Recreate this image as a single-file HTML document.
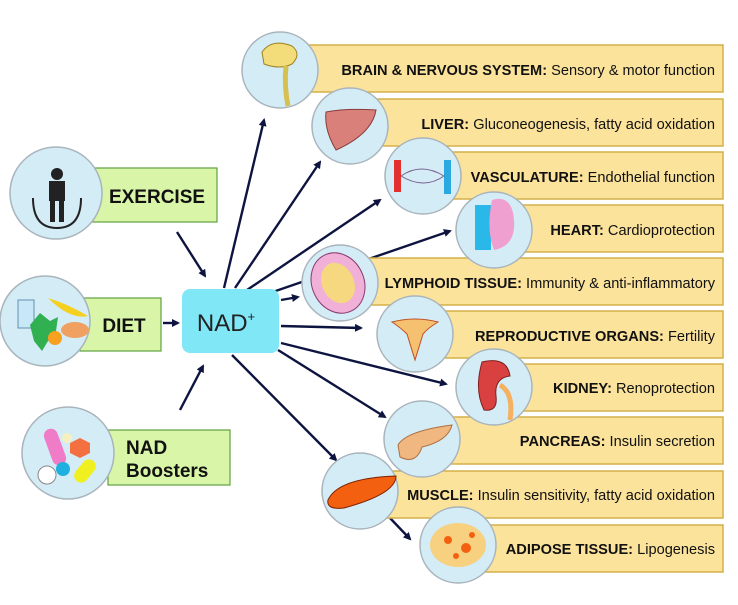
<!DOCTYPE html>
<html><head><meta charset="utf-8"><style>
html,body{margin:0;padding:0;background:#fff;}
svg{display:block;font-family:"Liberation Sans",Arial,sans-serif;}
.b{fill:#fbe39b;stroke:#d4b04a;stroke-width:1.5}
.g{fill:#d8f5a8;stroke:#5fa040;stroke-width:1.2}
.c{fill:#d3ecf5;stroke:#a9b4bc;stroke-width:1.5}
.t{font-size:14.6px;fill:#111;text-anchor:end}
.a{stroke:#0d1440;stroke-width:2.4;fill:none;marker-end:url(#m)}
</style></head><body>
<svg width="738" height="605" viewBox="0 0 738 605">
<defs><marker id="m" markerWidth="8" markerHeight="8" refX="6" refY="4" orient="auto" markerUnits="userSpaceOnUse"><path d="M0,0L8,4L0,8z" fill="#0d1440"/></marker></defs>
<!-- arrows -->
<line class="a" x1="177" y1="232" x2="205" y2="276"/>
<line class="a" x1="163" y1="323" x2="178" y2="323"/>
<line class="a" x1="180" y1="410" x2="203" y2="366"/>
<line class="a" x1="224" y1="288" x2="264" y2="120"/>
<line class="a" x1="235" y1="288" x2="320" y2="162"/>
<line class="a" x1="247" y1="290" x2="380" y2="200"/>
<line class="a" x1="264" y1="295" x2="450" y2="231"/>
<line class="a" x1="281" y1="300" x2="298" y2="297"/>
<line class="a" x1="281" y1="326" x2="361" y2="328"/>
<line class="a" x1="281" y1="343" x2="446" y2="384"/>
<line class="a" x1="278" y1="350" x2="385" y2="417"/>
<line class="a" x1="232" y1="355" x2="336" y2="460"/>
<line class="a" x1="390" y1="518" x2="410" y2="539"/>
<!-- right boxes -->
<rect class="b" x="300" y="45" width="423" height="47"/>
<rect class="b" x="370" y="99" width="353" height="47"/>
<rect class="b" x="445" y="152" width="278" height="47"/>
<rect class="b" x="515" y="205" width="208" height="47"/>
<rect class="b" x="360" y="258" width="363" height="47"/>
<rect class="b" x="430" y="311" width="293" height="47"/>
<rect class="b" x="520" y="364" width="203" height="47"/>
<rect class="b" x="445" y="417" width="278" height="47"/>
<rect class="b" x="380" y="471" width="343" height="47"/>
<rect class="b" x="475" y="525" width="248" height="47"/>
<text class="t" x="715" y="75"><tspan font-weight="bold">BRAIN &amp; NERVOUS SYSTEM:</tspan> Sensory &amp; motor function</text>
<text class="t" x="715" y="129"><tspan font-weight="bold">LIVER:</tspan>  Gluconeogenesis, fatty acid oxidation</text>
<text class="t" x="715" y="182"><tspan font-weight="bold">VASCULATURE:</tspan> Endothelial function</text>
<text class="t" x="715" y="235"><tspan font-weight="bold">HEART:</tspan>  Cardioprotection</text>
<text class="t" x="715" y="288"><tspan font-weight="bold">LYMPHOID TISSUE:</tspan> Immunity &amp; anti-inflammatory</text>
<text class="t" x="715" y="341"><tspan font-weight="bold">REPRODUCTIVE ORGANS:</tspan> Fertility</text>
<text class="t" x="715" y="393"><tspan font-weight="bold">KIDNEY:</tspan>  Renoprotection</text>
<text class="t" x="715" y="446"><tspan font-weight="bold">PANCREAS:</tspan> Insulin secretion</text>
<text class="t" x="715" y="500"><tspan font-weight="bold">MUSCLE:</tspan> Insulin sensitivity, fatty acid oxidation</text>
<text class="t" x="715" y="554"><tspan font-weight="bold">ADIPOSE TISSUE:</tspan>  Lipogenesis</text>
<!-- organ circles -->
<circle class="c" cx="280" cy="70" r="38"/>
<path d="M262,52q10,-14 30,-6q10,8 0,18q-12,6 -28,0z" fill="#f2dd7a" stroke="#a08020"/>
<path d="M286,66q-2,20 2,40" stroke="#d6c050" stroke-width="5" fill="none"/>
<circle class="c" cx="350" cy="126" r="38"/>
<path d="M326,112q20,-4 50,-2q-4,24 -40,40q-12,-20 -10,-38z" fill="#d9807a" stroke="#8a3a3a"/>
<circle class="c" cx="423" cy="176" r="38"/>
<rect x="394" y="160" width="7" height="32" fill="#e23030"/><rect x="444" y="160" width="7" height="34" fill="#2aa8e0"/>
<path d="M401,176q20,-14 43,0q-20,14 -43,0" stroke="#7a6090" fill="none"/>
<circle class="c" cx="494" cy="230" r="38"/>
<path d="M475,205h16v45h-16z" fill="#2ab8e8"/><path d="M492,200q20,-6 22,20q2,26 -20,30q-8,-20 -2,-50z" fill="#f0a0d0"/>
<circle class="c" cx="340" cy="283" r="38"/>
<ellipse cx="338" cy="283" rx="26" ry="31" fill="#f0b0d8" stroke="#8a3a70" transform="rotate(-25 338 283)"/>
<ellipse cx="338" cy="283" rx="16" ry="21" fill="#f5d880" transform="rotate(-25 338 283)"/>
<circle class="c" cx="415" cy="334" r="38"/>
<path d="M392,322q23,-6 46,0q-10,6 -15,12l-8,26l-8,-26q-6,-6 -15,-12z" fill="#f5c070" stroke="#c05020"/>
<circle class="c" cx="494" cy="387" r="38"/>
<path d="M482,362q25,-6 28,14q-16,2 -14,20q2,16 -12,14q-10,-20 -2,-48z" fill="#d94040" stroke="#802020"/>
<path d="M500,385q14,8 10,35" stroke="#f5b060" stroke-width="5" fill="none"/>
<circle class="c" cx="422" cy="439" r="38"/>
<path d="M398,445q8,-14 54,-20q-4,16 -30,22q-6,18 -22,10z" fill="#f0b880" stroke="#b07040"/>
<circle class="c" cx="360" cy="491" r="38"/>
<path d="M328,500q10,-22 68,-24q0,18 -52,32q-18,2 -16,-8z" fill="#f26010" stroke="#802000"/>
<circle class="c" cx="458" cy="545" r="38"/>
<ellipse cx="458" cy="545" rx="28" ry="22" fill="#f7d080"/>
<circle cx="448" cy="540" r="4" fill="#f26010"/><circle cx="466" cy="548" r="5" fill="#f26010"/><circle cx="456" cy="556" r="3" fill="#f26010"/><circle cx="472" cy="535" r="3" fill="#f26010"/>
<!-- left -->
<rect class="g" x="92" y="168" width="125" height="54"/>
<text x="157" y="203" font-size="19" font-weight="bold" text-anchor="middle" fill="#111">EXERCISE</text>
<circle class="c" cx="56" cy="193" r="46"/>
<circle cx="57" cy="174" r="6" fill="#222"/><rect x="49" y="181" width="16" height="20" fill="#222"/><rect x="50" y="200" width="5" height="22" fill="#222"/><rect x="59" y="200" width="5" height="22" fill="#222"/>
<path d="M33,198q0,30 24,30q24,0 24,-30" stroke="#222" stroke-width="2" fill="none"/>
<rect class="g" x="80" y="298" width="81" height="53"/>
<text x="124" y="332" font-size="19" font-weight="bold" text-anchor="middle" fill="#111">DIET</text>
<circle class="c" cx="45" cy="321" r="45"/>
<rect x="18" y="300" width="16" height="28" fill="#c8e8f8" stroke="#6090b0"/>
<path d="M48,298q20,6 40,18q-18,4 -40,-18z" fill="#f5d020"/>
<ellipse cx="75" cy="330" rx="14" ry="8" fill="#f0a060"/>
<path d="M30,325l10,-12l10,8l8,-4l-2,14l6,8l-14,2l-6,10l-8,-10z" fill="#30b050"/>
<circle cx="55" cy="338" r="7" fill="#f8a020"/>
<rect class="g" x="108" y="430" width="122" height="55"/>
<text x="126" y="454" font-size="19" font-weight="bold" fill="#111">NAD</text>
<text x="126" y="477" font-size="19" font-weight="bold" fill="#111">Boosters</text>
<circle class="c" cx="68" cy="453" r="46"/>
<rect x="48" y="428" width="14" height="38" rx="7" fill="#f07cc8" transform="rotate(-20 55 447)"/>
<circle cx="67" cy="438" r="5" fill="#f5f0c0"/>
<polygon points="80,438 90,443 90,453 80,458 70,453 70,443" fill="#f57040"/>
<circle cx="47" cy="475" r="9" fill="#fff" stroke="#888"/>
<circle cx="63" cy="469" r="7" fill="#20b0e0"/>
<rect x="78" y="458" width="14" height="26" rx="7" fill="#f0f020" transform="rotate(40 85 471)"/>
<!-- NAD -->
<rect x="182" y="289" width="97" height="64" rx="8" fill="#7fe7f6"/>
<text x="226" y="331" font-size="24" text-anchor="middle" fill="#222">NAD<tspan font-size="13" dy="-10">+</tspan></text>
</svg>
</body></html>
